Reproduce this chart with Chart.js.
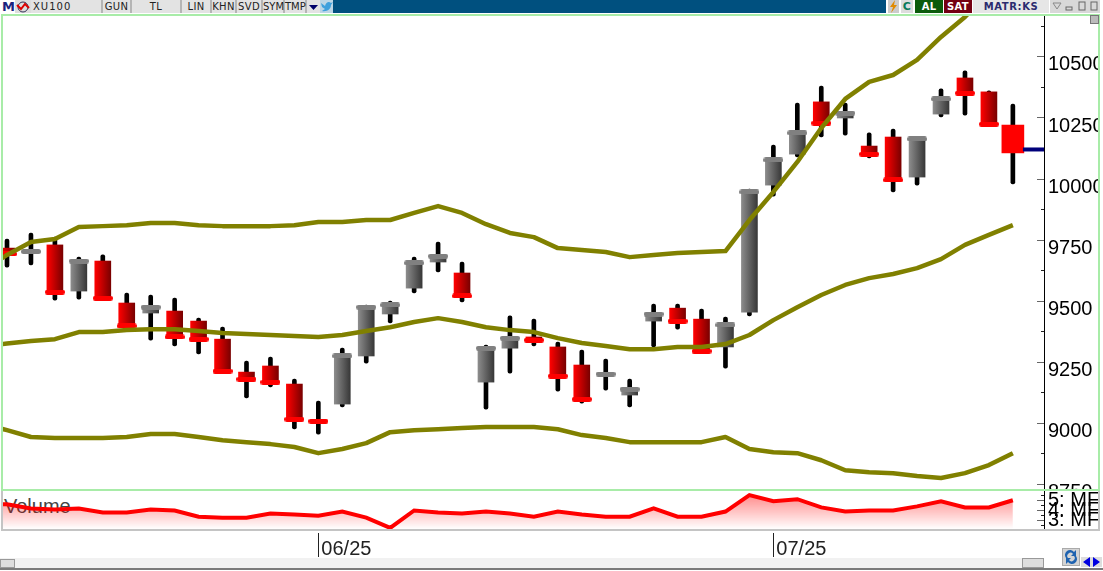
<!DOCTYPE html>
<html lang="en">
  <head>
    <meta charset="UTF-8" />
    <title>XU100</title>
    <script src="https://cdn.jsdelivr.net/npm/chart.js"></script>
    <style>
      html, body { margin: 0; padding: 0; background: #fff; overflow: hidden; }
      body { width: 1103px; height: 571px; position: relative; font-family: "Liberation Sans", Arial, sans-serif; }
      canvas { position: absolute; left: 0; display: block; }
      svg { display: block; }
      .box { position: absolute; box-sizing: border-box; }
      .btn { position: absolute; top: 0; height: 13px; background: #e3e3e3; border-right: 2px solid #b5b5b5;
             box-sizing: border-box; font: 10px/13px "DejaVu Sans", sans-serif; color: #222; text-align: center; letter-spacing: 0.3px; }
    </style>
  </head>
  <body>
    <!-- toolbar -->
    <div class="box" style="left:333px;top:0;width:553px;height:13px;background:#00507f"></div>
    <div class="btn" style="left:2px;width:13px;background:#fff;border:0;color:#1a237e;font-weight:bold;font-size:13px">M</div>
    <div class="btn" style="left:15px;width:16px;background:#ddd;border:0">
      <svg width="16" height="13"><circle cx="8" cy="7" r="5" fill="none" stroke="#335" stroke-width="1"/><path d="M2 5 L6 9 L10 4 L14 8" fill="none" stroke="#d00" stroke-width="2"/></svg>
    </div>
    <div class="btn" style="left:31px;width:72px;text-align:left;padding-left:2px;letter-spacing:1px">XU100</div>
    <div class="btn" style="left:103px;width:29px">GUN</div>
    <div class="btn" style="left:132px;width:50px">TL</div>
    <div class="btn" style="left:182px;width:30px">LIN</div>
    <div class="btn" style="left:212px;width:25px">KHN</div>
    <div class="btn" style="left:237px;width:26px">SVD</div>
    <div class="btn" style="left:263px;width:22px;letter-spacing:0">SYM</div>
    <div class="btn" style="left:285px;width:22px;letter-spacing:0">TMP</div>
    <div class="btn" style="left:307px;width:13px;border:0">
      <svg width="13" height="13"><path d="M2 5 H11 L6.5 10 Z" fill="#00006a"/></svg>
    </div>
    <div class="btn" style="left:320px;width:13px;background:#bcd6e6;border:0">
      <svg width="13" height="13"><path d="M1 3 L5 6 C6 2 9 1 11 3 L13 2 L11 5 C11 9 7 12 2 11 L5 9 L2 7 Z" fill="#3fa0dc"/></svg>
    </div>
    <div class="btn" style="left:888px;width:11px;background:#ccc;border:0">
      <svg width="11" height="13"><path d="M7 0 L2 7 H5 L3 13 L9 5 H6 Z" fill="#e08a00"/></svg>
    </div>
    <div class="btn" style="left:901px;width:12px;background:#ddd;border:0;color:#0a7a5a;font-weight:bold;font-size:11px">C</div>
    <div class="btn" style="left:915px;width:28px;background:#0b5c0b;border:0;color:#fff;font-weight:bold">AL</div>
    <div class="btn" style="left:944px;width:28px;background:#740012;border:0;color:#fff;font-weight:bold">SAT</div>
    <div class="btn" style="left:973px;width:76px;background:#e6e6e6;border:0;color:#2b2b6e;font-weight:bold;letter-spacing:0.6px">MATR:KS</div>
    <div class="btn" style="left:1050px;width:50px;background:#d8d8d8;border:0">
      <svg width="50" height="13"><path d="M3 3 H11 L7 9 Z" fill="none" stroke="#888"/><rect x="16" y="7" width="6" height="3" fill="none" stroke="#666"/><rect x="29" y="2" width="6" height="8" fill="none" stroke="#666"/><rect x="41" y="2" width="6" height="8" fill="none" stroke="#666"/></svg>
    </div>

    <span class="box" style="left:4px;top:495px;font-size:20px;line-height:22px;color:#444">Volume</span>

    <canvas id="priceChart" width="1098" height="476" style="top:14px"></canvas>
    <canvas id="volumeChart" width="1098" height="39" style="top:491px"></canvas>
    <canvas id="dateChart" width="1098" height="26" style="top:532px"></canvas>

    <!-- panel frames -->
    <div class="box" style="left:1px;top:14px;width:1099px;height:477px;border:2px solid #a8eca8"></div>
    <div class="box" style="left:1px;top:491px;width:1099px;height:40px;border:2px solid #c4c4c4;border-top:0"></div>
    <div class="box" style="left:1090px;top:15px;width:9px;height:9px;background:#bbb;border:1px solid #777"></div>

    <!-- bottom scroll bar -->
    <div class="box" style="left:0;top:558px;width:1022px;height:10px;background:#f1f1f1"></div>
    <div class="box" style="left:0;top:559px;width:15px;height:9px;background:#ddd;border:1px solid #999"></div>
    <div class="box" style="left:1022px;top:558px;width:22px;height:10px;background:#ddd;border:1px solid #999"></div>
    <div class="box" style="left:1062px;top:548px;width:18px;height:18px;background:#d4d4d4;border:1px solid #aaa">
      <svg width="16" height="16"><path d="M3 9 A5 5 0 0 1 11 3 L13 1 V7 H8 L10 5 A3 3 0 0 0 5 9 Z M13 7 A5 5 0 0 1 5 13 L3 15 V9 H8 L6 11 A3 3 0 0 0 11 7 Z" fill="#1f63b0"/></svg>
    </div>
    <div class="box" style="left:1081px;top:557px;width:21px;height:10px;background:#ddd">
      <svg width="21" height="10"><path d="M9 0 V10 L2 5 Z M12 0 V10 L19 5 Z" fill="#0000e0"/></svg>
    </div>
    <div class="box" style="left:0;top:568px;width:1103px;height:2px;background:#7a7a7a"></div>

    <script>
      // one candle per trading day, index 0 is the first one on screen
      const opens = [9717, 9699, 9730, 9541, 9664, 9492, 9451, 9459, 9418, 9344, 9209, 9234, 9160, 9012, 9078, 9275, 9447, 9553, 9660, 9615, 9168, 9307, 9353, 9312, 9238, 9199, 9115, 9418, 9471, 9426, 9312, 9455, 9975, 10102, 10316, 10250, 10135, 10172, 10008, 10266, 10414, 10357, 10221];
      const closes = [9693, 9703, 9537, 9664, 9512, 9398, 9475, 9353, 9344, 9213, 9180, 9168, 9016, 9008, 9275, 9475, 9484, 9656, 9684, 9521, 9307, 9348, 9340, 9193, 9098, 9201, 9139, 9447, 9418, 9295, 9402, 9947, 10078, 10189, 10229, 10270, 10102, 9996, 10164, 10328, 10352, 10225, 10107];
      const highs = [9754, 9779, 9762, 9680, 9689, 9533, 9525, 9512, 9430, 9393, 9254, 9271, 9180, 9090, 9307, 9484, 9500, 9680, 9742, 9660, 9320, 9439, 9426, 9332, 9299, 9262, 9180, 9488, 9488, 9467, 9434, 9959, 10139, 10311, 10381, 10311, 10189, 10205, 10172, 10369, 10443, 10361, 10307];
      const lows = [9639, 9648, 9504, 9508, 9510, 9396, 9340, 9316, 9283, 9209, 9103, 9148, 8976, 8955, 9066, 9246, 9410, 9533, 9619, 9496, 9057, 9205, 9316, 9131, 9082, 9135, 9066, 9312, 9385, 9291, 9225, 9439, 9930, 10090, 10172, 10180, 10086, 9947, 9975, 10254, 10262, 10221, 9980];

      // the band and volume lists start one day earlier, off the left edge
      const upperBand = [9623, 9689, 9742, 9754, 9803, 9807, 9811, 9820, 9820, 9811, 9807, 9807, 9807, 9811, 9824, 9824, 9832, 9832, 9861, 9889, 9861, 9815, 9779, 9762, 9717, 9709, 9701, 9680, 9689, 9697, 9701, 9705, 9832, 9947, 10070, 10209, 10328, 10398, 10426, 10488, 10582, 10664, 10766, 10856];
      const middleBand = [9316, 9326, 9336, 9344, 9373, 9373, 9381, 9385, 9385, 9377, 9369, 9365, 9361, 9357, 9353, 9361, 9377, 9393, 9414, 9430, 9414, 9393, 9381, 9373, 9348, 9328, 9316, 9303, 9303, 9312, 9312, 9324, 9361, 9422, 9475, 9525, 9566, 9594, 9611, 9635, 9672, 9730, 9771, 9811];
      const lowerBand = [8998, 8971, 8943, 8939, 8939, 8939, 8943, 8955, 8955, 8943, 8930, 8922, 8914, 8902, 8877, 8894, 8918, 8963, 8971, 8975, 8980, 8984, 8984, 8984, 8975, 8951, 8939, 8922, 8922, 8922, 8922, 8943, 8894, 8881, 8877, 8848, 8807, 8799, 8795, 8783, 8775, 8795, 8828, 8877];
      const volumes = [4.7, 4.6, 4.2, 4.1, 4.2, 3.8, 3.8, 4.1, 4.0, 3.4, 3.3, 3.3, 3.7, 3.6, 3.5, 3.9, 3.3, 2.3, 4.0, 3.8, 3.7, 3.9, 3.7, 3.4, 3.9, 3.6, 3.4, 3.4, 4.2, 3.4, 3.4, 3.9, 5.5, 4.9, 5.1, 4.3, 3.9, 4.0, 4.0, 4.4, 4.9, 4.3, 4.3, 5.0];

      const lastPrice = 10121;
      const priceTicks = [8750, 9000, 9250, 9500, 9750, 10000, 10250, 10500];
      const priceMinorTicks = [8875, 9125, 9375, 9625, 9875, 10125, 10375, 10625];
      const volumeTicks = [3, 4, 5];
      const volumeMinorTicks = [2.5, 3.5, 4.5, 5.5];
      const monthTicks = [13, 32];
      const monthLabels = ["06/25", "07/25"];

      const xMin = -0.167;
      const xMax = 43.3;
      const lastDay = opens.length - 1;

      const days = opens.map((_, i) => i);
      const olive = "#808000";

      function xAxis() {
        return { type: "linear", display: false, min: xMin, max: xMax, offset: false };
      }

      function fixedTicks(values) {
        return (s) => { s.ticks = values.map((v) => ({ value: v })); };
      }

      // same layout settings for the three stacked charts
      function baseOptions(right) {
        return {
          responsive: false,
          animation: false,
          devicePixelRatio: 1,
          layout: { autoPadding: false, padding: { left: 3, right: right, top: 0, bottom: 0 } },
          plugins: { legend: { display: false }, tooltip: { enabled: false } },
        };
      }

      // fixed side width, and no room kept for the first and last label
      function fitTo(width) {
        return (s) => {
          s.width = width;
          s.paddingTop = 0;
          s.paddingBottom = 0;
          s.paddingLeft = 0;
          s.paddingRight = 0;
        };
      }

      function valueAxis(min, max, ticks, extra) {
        return {
          position: "right",
          min: min,
          max: max,
          afterBuildTicks: fixedTicks(ticks),
          afterFit: fitTo(54),
          border: { color: "#000", width: 1 },
          grid: { drawOnChartArea: false, tickLength: -7, tickColor: "#666" },
          ticks: Object.assign({
            autoSkip: false,
            padding: 11,
            color: "#000",
            font: { family: "Liberation Sans", size: 20 },
          }, extra),
        };
      }

      // short marks between the labelled ticks
      function minorAxis(min, max, ticks) {
        return {
          position: "right",
          weight: -1,
          min: min,
          max: max,
          afterBuildTicks: fixedTicks(ticks),
          afterFit: fitTo(0),
          border: { display: false },
          grid: { drawOnChartArea: false, tickLength: -3, tickColor: "#222" },
          ticks: { display: false, autoSkip: false },
        };
      }

      function bodyColor(c) {
        if (!c.raw) return "#000";
        const x = c.chart.scales.x.getPixelForValue(c.raw.x);
        // the scale has no pixels yet on the first pass
        if (!Number.isFinite(x)) return "#000";
        const g = c.chart.ctx.createLinearGradient(x - 8, 0, x + 8, 0);
        const up = closes[c.raw.x] >= opens[c.raw.x];
        g.addColorStop(0, up ? "#8c8c8c" : "#ff0000");
        g.addColorStop(1, up ? "#383838" : "#7a0000");
        return g;
      }

      function capImage(color) {
        const c = document.createElement("canvas");
        c.width = 20;
        c.height = 5;
        const g = c.getContext("2d");
        g.fillStyle = color;
        g.beginPath();
        g.roundRect(0, 0, 20, 5, 2.5);
        g.fill();
        return c;
      }
      const grayCap = capImage("#808080");
      const redCap = capImage("#ff0000");

      function band(label, values) {
        return {
          type: "line",
          label: label,
          data: values.map((v, i) => ({ x: i - 1, y: v })),
          borderColor: olive,
          borderWidth: 4.5,
          pointRadius: 0,
          tension: 0,
          borderJoinStyle: "round",
          order: 0,
        };
      }

      new Chart(document.getElementById("priceChart"), {
        type: "bar",
        data: {
          datasets: [
            band("Upper", upperBand),
            band("Middle", middleBand),
            band("Lower", lowerBand),
            {
              type: "line",
              label: "Last",
              data: [
                { x: lastDay + 0.42, y: lastPrice },
                { x: xMax, y: lastPrice },
              ],
              borderColor: "#00007a",
              borderWidth: 4,
              pointRadius: 0,
              order: 1,
            },
            {
              type: "line",
              label: "Close",
              data: days.slice(0, lastDay).map((i) => ({ x: i, y: closes[i] })),
              showLine: false,
              pointRadius: 5,
              pointStyle: (c) => (closes[c.dataIndex] >= opens[c.dataIndex] ? grayCap : redCap),
              order: 2,
            },
            {
              label: "Last body",
              data: [{ x: lastDay, y: [closes[lastDay], opens[lastDay]] }],
              backgroundColor: "#ff0000",
              barThickness: 22,
              grouped: false,
              order: 3,
            },
            {
              label: "Body",
              data: days.slice(0, lastDay).map((i) => ({
                x: i,
                y: [Math.min(opens[i], closes[i]), Math.max(opens[i], closes[i])],
              })),
              backgroundColor: bodyColor,
              barThickness: 16,
              grouped: false,
              order: 4,
            },
            {
              label: "Wick",
              data: days.map((i) => ({ x: i, y: [lows[i], highs[i]] })),
              backgroundColor: "#000",
              barThickness: 4,
              grouped: false,
              borderRadius: 2,
              borderSkipped: false,
              order: 5,
            },
          ],
        },
        options: Object.assign(baseOptions(0), {
          scales: {
            x: xAxis(),
            y: valueAxis(8726, 10676, priceTicks, { labelOffset: 8, callback: (v) => String(v) }),
            yMinor: minorAxis(8726, 10676, priceMinorTicks),
          },
        }),
      });

      const volumeCanvas = document.getElementById("volumeChart");
      const volumeFill = volumeCanvas.getContext("2d").createLinearGradient(0, 0, 0, 38);
      volumeFill.addColorStop(0, "rgba(255, 0, 0, 0.5)");
      volumeFill.addColorStop(1, "rgba(255, 0, 0, 0)");

      new Chart(volumeCanvas, {
        type: "line",
        data: {
          datasets: [
            {
              label: "Volume",
              data: volumes.map((v, i) => ({ x: i - 1, y: v })),
              borderColor: "#ff0000",
              borderWidth: 4,
              pointRadius: 0,
              tension: 0,
              fill: "start",
              backgroundColor: volumeFill,
            },
          ],
        },
        options: Object.assign(baseOptions(0), {
          scales: {
            x: xAxis(),
            y: valueAxis(2.1, 5.9, volumeTicks, { callback: (v) => v + ": MF" }),
            yMinor: minorAxis(2.1, 5.9, volumeMinorTicks),
          },
        }),
      });

      new Chart(document.getElementById("dateChart"), {
        type: "line",
        data: { datasets: [] },
        options: Object.assign(baseOptions(54), {
          scales: {
            x: {
              type: "linear",
              position: "bottom",
              min: xMin,
              max: xMax,
              afterBuildTicks: fixedTicks(monthTicks),
              afterFit: (s) => { s.height = 25; },
              border: { display: false },
              grid: { drawOnChartArea: false, tickLength: 24, tickColor: "#222" },
              ticks: {
                align: "start",
                autoSkip: false,
                maxRotation: 0,
                padding: -20,
                labelOffset: 3,
                color: "#222",
                font: { family: "Liberation Sans", size: 20 },
                callback: (v) => monthLabels[monthTicks.indexOf(v)],
              },
            },
            y: { display: false },
          },
        }),
      });
    </script>
  </body>
</html>
